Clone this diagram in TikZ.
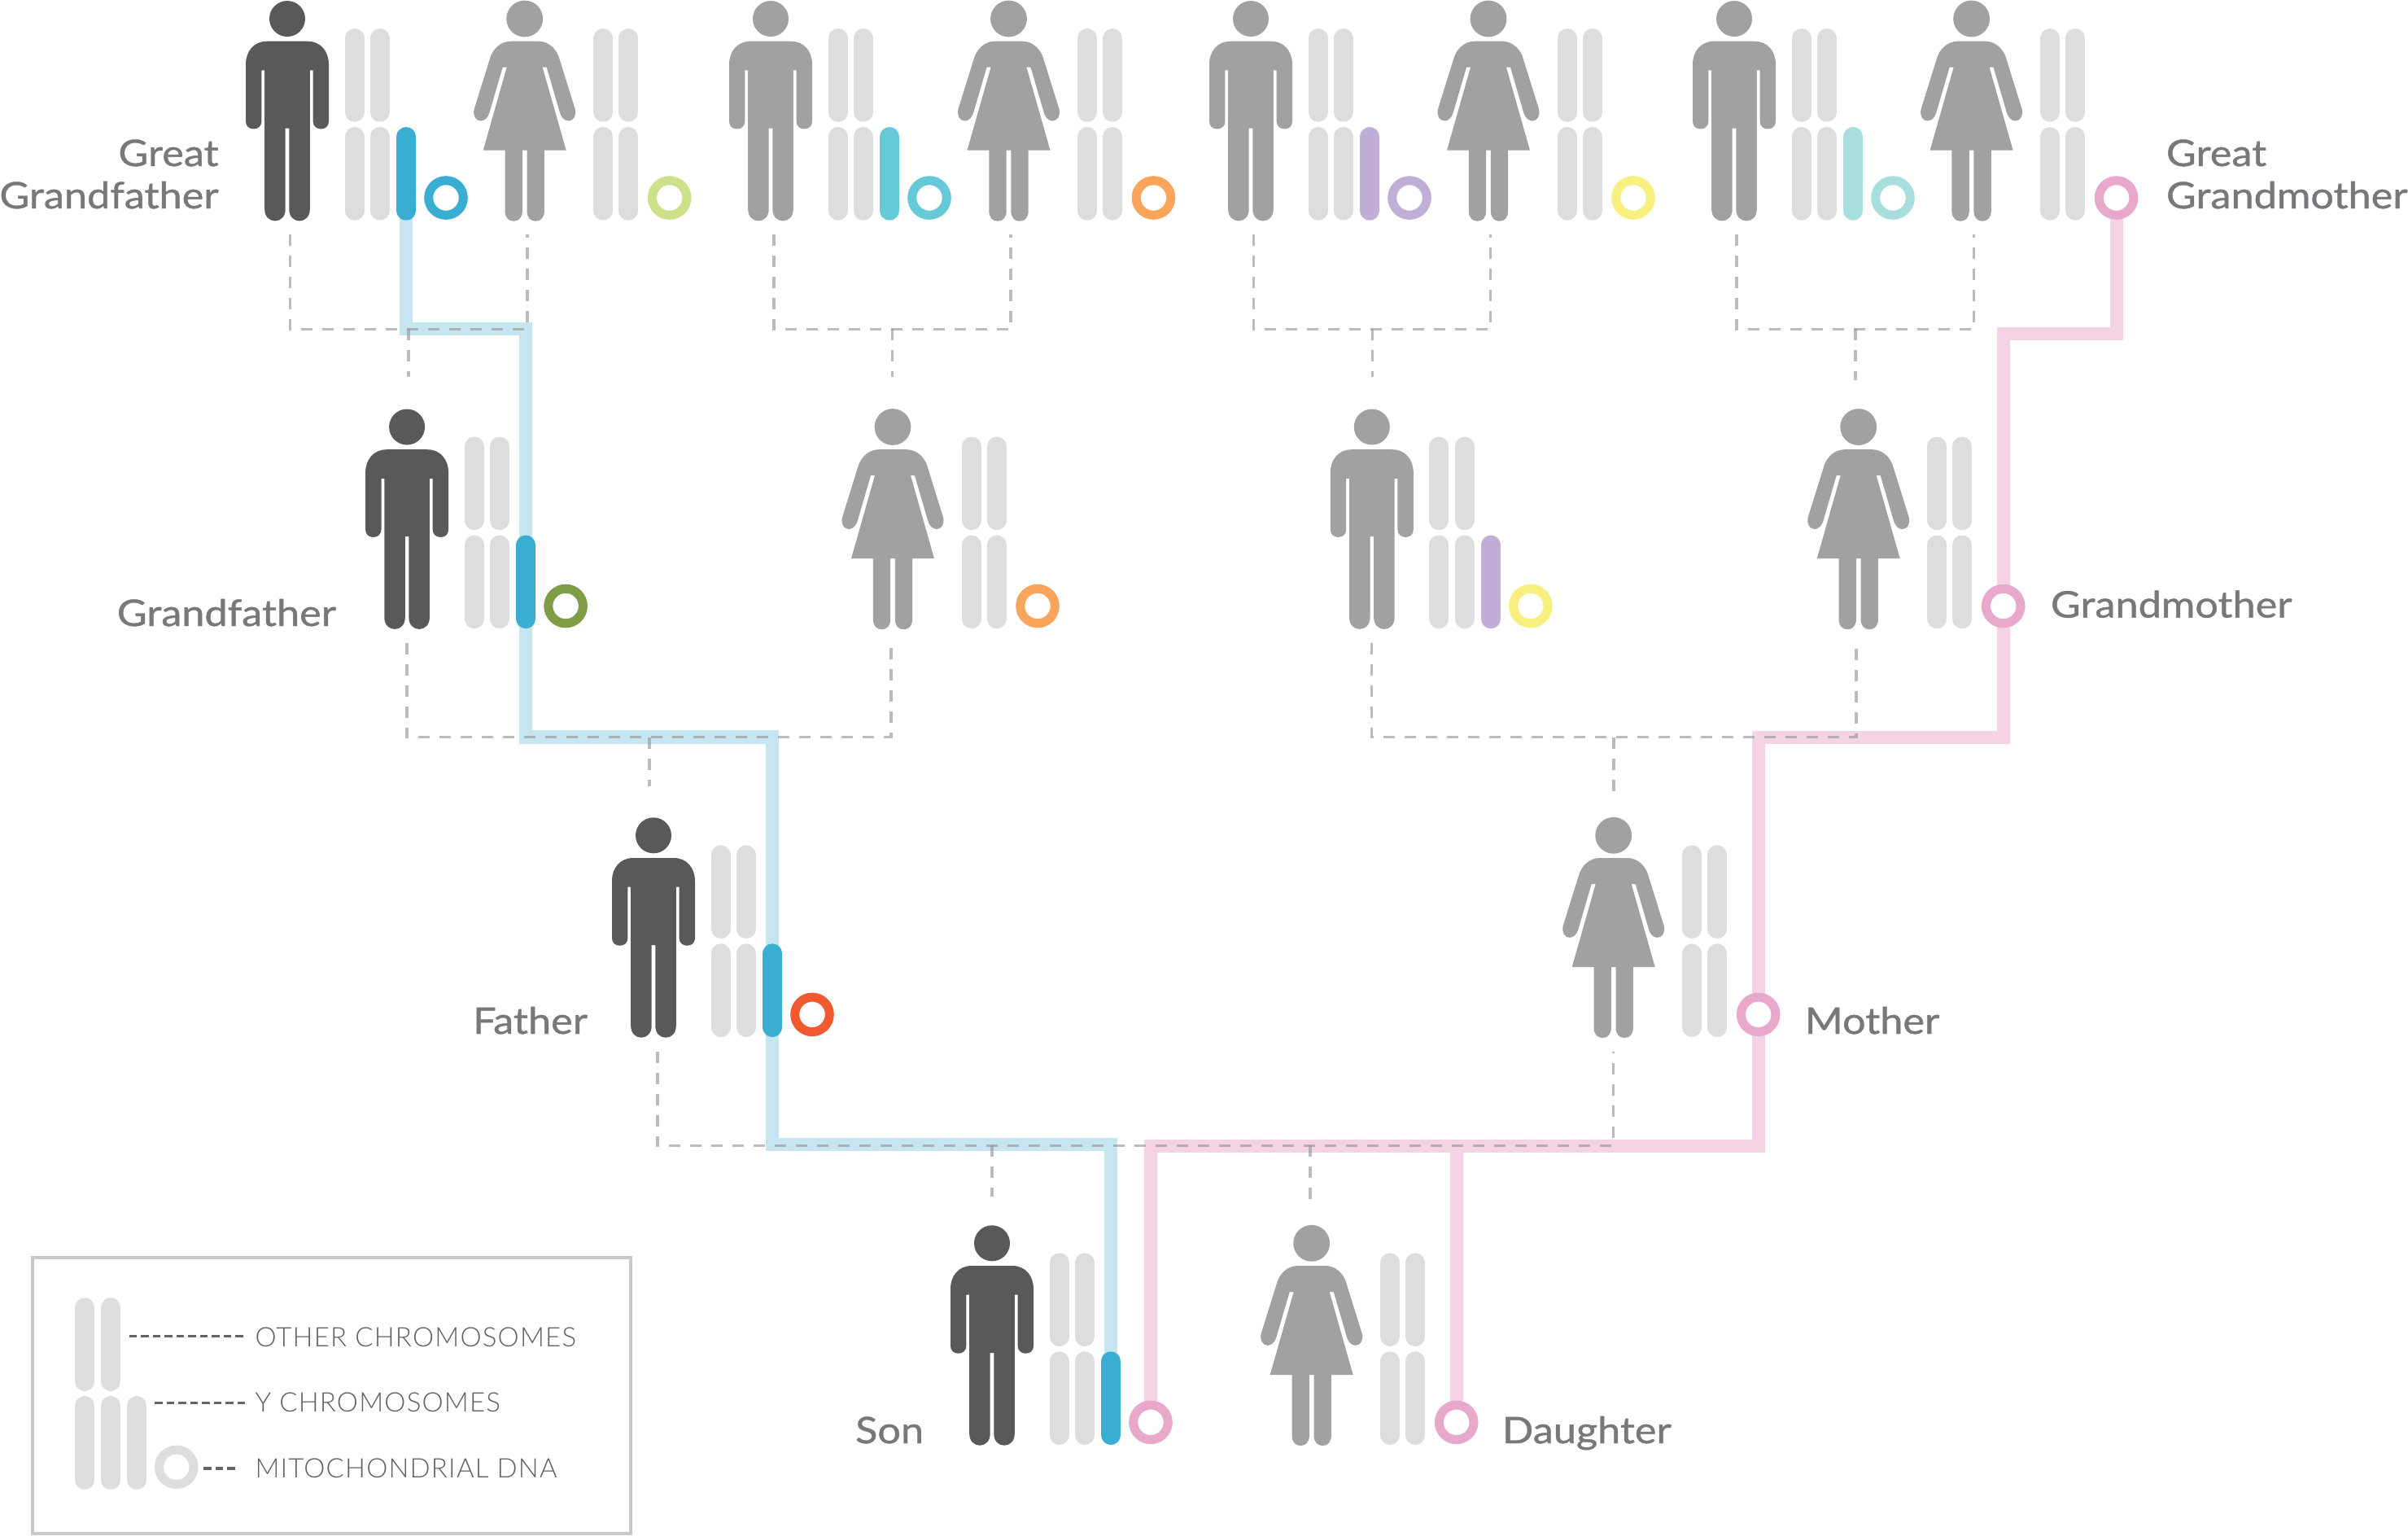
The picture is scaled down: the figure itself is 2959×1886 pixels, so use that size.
\documentclass[tikz,border=0pt]{standalone}
\usepackage{fontspec}
\newfontfamily\lblfont[FakeBold=0.9,FakeStretch=1.12]{Lato}
\newfontfamily\lgdfont[LetterSpace=3.6]{Lato Light}
\pgfdeclarelayer{bg}
\pgfsetlayers{bg,main}
\definecolor{cdark}{HTML}{58595B}
\definecolor{cgray}{HTML}{A1A1A3}
\definecolor{cchr}{HTML}{DCDDDF}
\definecolor{ctext}{HTML}{77787B}
\definecolor{clegtext}{HTML}{5F6062}
\definecolor{cblue}{HTML}{3AADD2}
\definecolor{cbluel}{HTML}{C5E6F1}
\definecolor{cpink}{HTML}{E7A8CC}
\definecolor{cpinkl}{HTML}{F4D3E5}
\definecolor{cteal}{HTML}{66C9D8}
\definecolor{cpurple}{HTML}{C0AED6}
\definecolor{caqua}{HTML}{A9DEDF}
\definecolor{clime}{HTML}{CDE18A}
\definecolor{corange}{HTML}{FAA45C}
\definecolor{cyellow}{HTML}{F7F07E}
\definecolor{colive}{HTML}{7F9D45}
\definecolor{cred}{HTML}{F15A30}
\definecolor{cbox}{HTML}{C8C9CA}
\definecolor{cdash}{HTML}{999999}
\definecolor{clegdash}{HTML}{636466}
\tikzset{
  chrom/.style={line width=4.8pt,line cap=round,cchr},
  ringmark/.style={line width=2.2pt,fill=white},
  dashline/.style={draw=cdash,opacity=.65,line width=.65pt,dash pattern=on 2.8pt off 2.4pt},
  blueline/.style={draw=cbluel,line width=3.25pt,line join=miter},
  pinkline/.style={draw=cpinkl,line width=3.25pt,line join=miter},
  lbl/.style={font=\lblfont\fontsize{9}{10.4}\selectfont,text=ctext,inner sep=0pt,outer sep=0pt},
  lgd/.style={font=\lgdfont\fontsize{6.6}{8}\selectfont,text=clegtext,inner sep=0pt,anchor=base west},
  lgdash/.style={draw=clegdash,line width=.65pt,dash pattern=on 1.9pt off 1pt},
}
% #1 name, #2 cx, #3 top y, #4 colour, #5 third chromosome colour, #6 ring colour
\newcommand{\manfig}[6]{%
\begin{scope}[shift={(#2,#3)}]
  \coordinate (#1) at (0,0);
  \coordinate (#1-chr) at (146.2,240);
  \coordinate (#1-ring) at (195,242);
  \fill[#4] (0,22) circle (22);
  \fill[#4] (-25,49.7) -- (25,49.7) .. controls (41,49.7) and (51,62) .. (51,78) -- (51,148)
    .. controls (51,154) and (47,157.4) .. (41.3,157.4) .. controls (36,157.4) and (31.6,154) .. (31.6,148)
    -- (31.6,85.4) -- (27.8,85.4) -- (27.8,256) .. controls (27.8,265) and (22,270.4) .. (15,270.4)
    .. controls (8,270.4) and (2.3,265) .. (2.3,256) -- (2.3,156.7) -- (-2.3,156.7) -- (-2.3,256)
    .. controls (-2.3,265) and (-8,270.4) .. (-15,270.4) .. controls (-22,270.4) and (-27.8,265) .. (-27.8,256)
    -- (-27.8,85.4) -- (-31.6,85.4) -- (-31.6,148) .. controls (-31.6,154) and (-36,157.4) .. (-41.3,157.4)
    .. controls (-47,157.4) and (-51,154) .. (-51,148) -- (-51,78) .. controls (-51,62) and (-41,49.7) .. (-25,49.7) -- cycle;
  \draw[chrom] (82.6,46) -- (82.6,136.7);
  \draw[chrom] (113.7,46) -- (113.7,136.7);
  \draw[chrom] (82.6,167) -- (82.6,257.7);
  \draw[chrom] (113.7,167) -- (113.7,257.7);
  \draw[chrom,#5] (146.2,167) -- (146.2,257.7);
  \draw[ringmark,draw=#6] (195,242) circle (21.3);
\end{scope}}
\newcommand{\womanfig}[5]{%
\begin{scope}[shift={(#2,#3)}]
  \coordinate (#1) at (0,0);
  \coordinate (#1-ring) at (178,242);
  \fill[#4] (0,22) circle (22.4);
  \fill[#4] (-17,49.7) -- (17,49.7) .. controls (30,49.7) and (40,60) .. (43,72) -- (62,133)
    .. controls (64,141) and (60,147.5) .. (54,147.5) .. controls (49,147.5) and (45,143) .. (43.5,138)
    -- (27,81.7) -- (22,81.7) -- (51,183.7) -- (24.2,183.7) -- (24.2,258)
    .. controls (24.2,266) and (20,270.7) .. (13.5,270.7) .. controls (7,270.7) and (2.8,266) .. (2.8,258)
    -- (2.8,183.7) -- (-2.8,183.7) -- (-2.8,258)
    .. controls (-2.8,266) and (-7,270.7) .. (-13.5,270.7) .. controls (-20,270.7) and (-24.2,266) .. (-24.2,258)
    -- (-24.2,183.7) -- (-51,183.7) -- (-22,81.7) -- (-27,81.7) -- (-43.5,138)
    .. controls (-45,143) and (-49,147.5) .. (-54,147.5) .. controls (-60,147.5) and (-64,141) .. (-62,133)
    -- (-43,72) .. controls (-40,60) and (-30,49.7) .. (-17,49.7) -- cycle;
  \draw[chrom] (96.6,46) -- (96.6,136.7);
  \draw[chrom] (127.6,46) -- (127.6,136.7);
  \draw[chrom] (96.6,167) -- (96.6,257.7);
  \draw[chrom] (127.6,167) -- (127.6,257.7);
  \draw[ringmark,draw=#5] (178,242) circle (21.3);
\end{scope}}
\begin{document}
\begin{tikzpicture}[x=0.2pt,y=-0.2pt]
\useasboundingbox (0,0) rectangle (2959,1886);
\begin{pgfonlayer}{bg}
  \fill[white] (0,0) rectangle (2959,1886);
\end{pgfonlayer}
% Row 1
\manfig{ga}{353}{1}{cdark}{cblue}{cblue}
\womanfig{gb}{644.7}{1}{cgray}{clime}
\manfig{gc}{947}{1}{cgray}{cteal}{cteal}
\womanfig{gd}{1239.5}{1}{cgray}{corange}
\manfig{ge}{1537}{1}{cgray}{cpurple}{cpurple}
\womanfig{gf}{1829}{1}{cgray}{cyellow}
\manfig{gg}{2131}{1}{cgray}{caqua}{caqua}
\womanfig{gh}{2422.6}{1}{cgray}{cpink}
% Row 2
\manfig{pa}{500.1}{502.5}{cdark}{cblue}{colive}
\womanfig{pb}{1097}{502.5}{cgray}{corange}
\manfig{pc}{1685.8}{502.5}{cgray}{cpurple}{cyellow}
\womanfig{pd}{2283.7}{502.5}{cgray}{cpink}
% Row 3
\manfig{fa}{803}{1004.3}{cdark}{cblue}{cred}
\womanfig{mo}{1982.7}{1004.3}{cgray}{cpink}
% Row 4
\manfig{so}{1219}{1505.3}{cdark}{cblue}{cpink}
\womanfig{da}{1611.7}{1505.3}{cgray}{cpink}
% Labels
\node[lbl,anchor=base east] (lga) at (268.6,204) {Great};
\node[lbl,anchor=base east] (lgb) at (268.6,256) {Grandfather};
\node[lbl,anchor=base west] (lgc) at (2662,204) {Great};
\node[lbl,anchor=base west] (lgd) at (2662,256) {Grandmother};
\node[lbl,anchor=base east] (lpa) at (413,769) {Grandfather};
\node[lbl,anchor=base west] (lpb) at (2520,758.6) {Grandmother};
\node[lbl,anchor=base east] (lfa) at (722,1270) {Father};
\node[lbl,anchor=base west] (lmo) at (2218,1270) {Mother};
\node[lbl,anchor=base east] (lso) at (1135,1773) {Son};
\node[lbl,anchor=base west] (lda) at (1846,1773) {Daughter};
% Dashed-line feet
\coordinate (ga-foot) at (356.5,288);
\coordinate (gb-foot) at (648,288);
\coordinate (gc-foot) at (951,288);
\coordinate (gd-foot) at (1242,288);
\coordinate (ge-foot) at (1540.5,288);
\coordinate (gf-foot) at (1831.6,288);
\coordinate (gg-foot) at (2134,288);
\coordinate (gh-foot) at (2425.7,288);
\coordinate (pa-foot) at (500,790);
\coordinate (pb-foot) at (1095,790);
\coordinate (pc-foot) at (1685.8,790);
\coordinate (pd-foot) at (2281,790);
\coordinate (fa-foot) at (808,1291.7);
\coordinate (mo-foot) at (1982.7,1291.7);
% Dashed-line heads
\coordinate (pa-top) at (502,463.3);
\coordinate (pb-top) at (1096.4,463.3);
\coordinate (pc-top) at (1686.4,463.3);
\coordinate (pd-top) at (2280,466.7);
\coordinate (fa-top) at (798,965.7);
\coordinate (mo-top) at (1983,973.6);
\coordinate (so-top) at (1219,1470);
\coordinate (da-top) at (1610,1474);
% Junctions
\coordinate (j1) at (pa-top |- 0,404.3);
\coordinate (j2) at (pb-top |- 0,404.3);
\coordinate (j3) at (pc-top |- 0,404.3);
\coordinate (j4) at (pd-top |- 0,404.3);
\coordinate (j5) at (fa-top |- 0,905.7);
\coordinate (j6) at (mo-top |- 0,905.7);
\coordinate (j7) at (so-top |- 0,1407.3);
\coordinate (j8) at (da-top |- 0,1407.3);
% Thick routes
\coordinate (b1) at (ga-chr |- 0,404.3);
\coordinate (b2) at (pa-chr |- 0,404.3);
\coordinate (b3) at (pa-chr |- 0,905.5);
\coordinate (b4) at (fa-chr |- 0,905.5);
\coordinate (b5) at (fa-chr |- 0,1406.3);
\coordinate (b6) at (so-chr |- 0,1406.3);
\coordinate (p1) at (gh-ring |- 0,410);
\coordinate (p2) at (pd-ring |- 0,410);
\coordinate (p3) at (pd-ring |- 0,906);
\coordinate (p4) at (mo-ring |- 0,906);
\coordinate (p5) at (mo-ring |- 0,1407.7);
\coordinate (p6) at (so-ring |- 0,1407.7);
\coordinate (p7) at (da-ring |- 0,1407.7);
\begin{pgfonlayer}{bg}
  \draw[blueline] (ga-chr) -- (b1) -- (b2) -- (b3) -- (b4) -- (b5) -- (b6) -- (so-chr);
  \draw[pinkline] (gh-ring) -- (p1) -- (p2) -- (p3) -- (p4) -- (p5) -- (p6) -- (so-ring);
  \draw[pinkline] (p7) -- (da-ring);
  \draw[dashline] (ga-foot) |- (j1) -| (gb-foot);
  \draw[dashline] (j1) -- (pa-top);
  \draw[dashline] (gc-foot) |- (j2) -| (gd-foot);
  \draw[dashline] (j2) -- (pb-top);
  \draw[dashline] (ge-foot) |- (j3) -| (gf-foot);
  \draw[dashline] (j3) -- (pc-top);
  \draw[dashline] (gg-foot) |- (j4) -| (gh-foot);
  \draw[dashline] (j4) -- (pd-top);
  \draw[dashline] (pa-foot) |- (j5) -| (pb-foot);
  \draw[dashline] (j5) -- (fa-top);
  \draw[dashline] (pc-foot) |- (j6) -| (pd-foot);
  \draw[dashline] (j6) -- (mo-top);
  \draw[dashline] (fa-foot) |- (j7) -| (mo-foot);
  \draw[dashline] (j7) -- (so-top);
  \draw[dashline] (j8) -- (da-top);
\end{pgfonlayer}
% Legend
\draw[draw=cbox,line width=.8pt] (39.5,1544.7) rectangle (775,1884);
\draw[chrom] (104.3,1606.3) -- (104.3,1697);
\draw[chrom] (136,1606.3) -- (136,1697);
\draw[chrom] (104.3,1727) -- (104.3,1818);
\draw[chrom] (136,1727) -- (136,1818);
\draw[chrom] (168.3,1727) -- (168.3,1818);
\draw[ringmark,draw=cchr] (216.8,1802.3) circle (21.3);
\node[lgd] (lx) at (312.5,1654) {OTHER CHROMOSOMES};
\node[lgd] (ly) at (312.5,1734.5) {Y CHROMOSOMES};
\node[lgd] (lz) at (312.5,1815) {MITOCHONDRIAL DNA};
\coordinate (d1) at (158.7,1641.7);
\coordinate (d2) at (190,1723.3);
\coordinate (d3) at (250,1804);
\coordinate (e1) at (301,1641.7);
\coordinate (e2) at (301,1723.3);
\coordinate (e3) at (293.4,1804);
\draw[lgdash] (d1) -- (e1);
\draw[lgdash] (d2) -- (e2);
\draw[lgdash] (d3) -- (e3);
\end{tikzpicture}
\end{document}
